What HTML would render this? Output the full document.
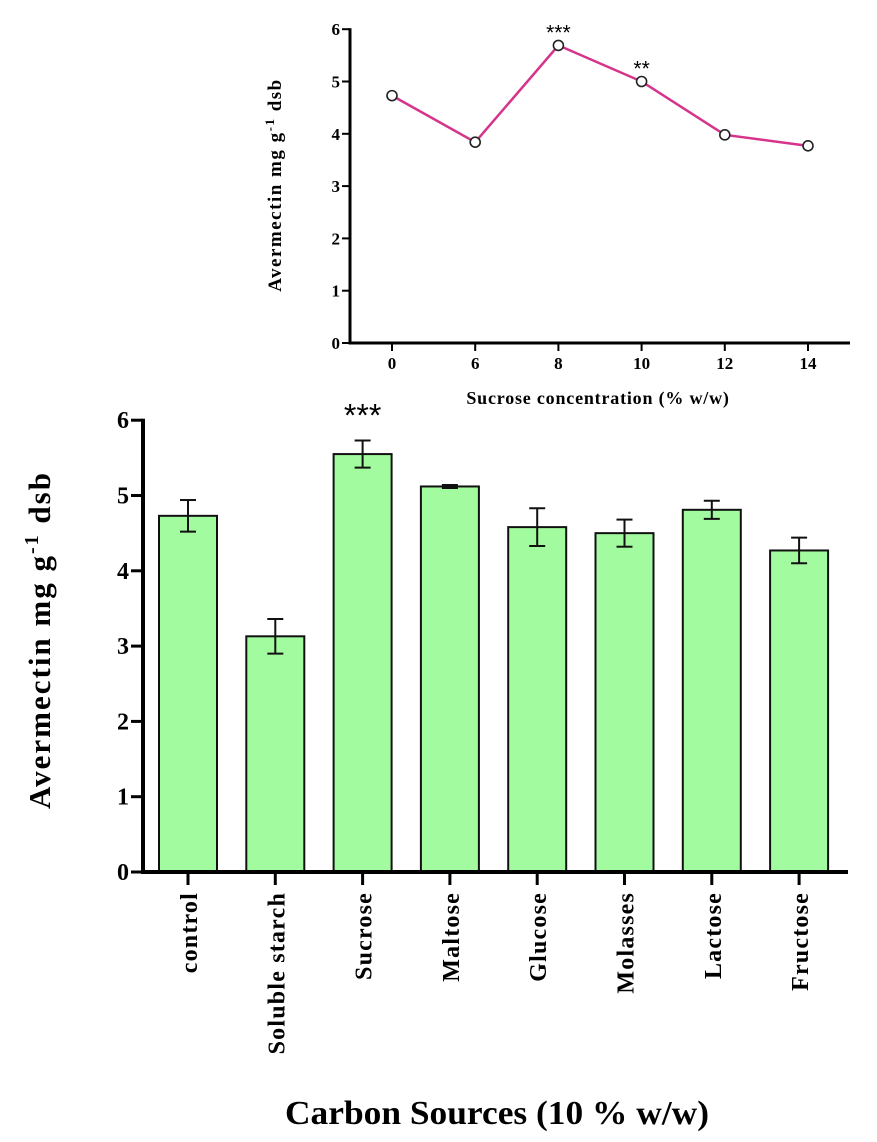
<!DOCTYPE html>
<html><head><meta charset="utf-8">
<style>
html,body{margin:0;padding:0;background:#fff;}
svg{display:block;font-family:"Liberation Serif",serif;font-weight:bold;}
</style></head>
<body>
<svg id="root" width="877" height="1142" viewBox="0 0 877 1142">
<g id="top"></g>
<g id="bot"></g>
</svg>
<script>
// ---- top line chart data ----
const lineCats = ["0","6","8","10","12","14"];
const lineVals = [4.73, 3.84, 5.69, 5.00, 3.98, 3.77];
const lineStars = ["", "", "***", "**", "", ""];
const lineYTicks = [0,1,2,3,4,5,6];
// ---- bottom bar chart data ----
const barCats = ["control","Soluble starch","Sucrose","Maltose","Glucose","Molasses","Lactose","Fructose"];
const barVals = [4.73, 3.13, 5.55, 5.12, 4.58, 4.50, 4.81, 4.27];
const barErrs = [0.21, 0.23, 0.18, 0.02, 0.25, 0.18, 0.12, 0.17];
const barStars = ["", "", "***", "", "", "", "", ""];
const barYTicks = [0,1,2,3,4,5,6];

const NS = "http://www.w3.org/2000/svg";
function mk(parent, tag, attrs, text){
  const e = document.createElementNS(NS, tag);
  for (const k in attrs) e.setAttribute(k, attrs[k]);
  if (text !== undefined) e.textContent = text;
  parent.appendChild(e);
  return e;
}

// ===== TOP =====
(function(){
  const g = document.getElementById('top');
  const ax = 350, y0 = 343, unit = 52.3, xEnd = 850;
  const x0 = 392, step = 83.2;
  const ys = v => y0 - v*unit;
  const xs = i => x0 + i*step;
  let e = mk(g,'line',{x1:ax,y1:ys(6)-1,x2:ax,y2:y0+1.5,stroke:'#000','stroke-width':3});
   
  e = mk(g,'line',{x1:ax-1.5,y1:y0,x2:xEnd,y2:y0,stroke:'#000','stroke-width':3});
   
  lineYTicks.forEach(t=>{
    mk(g,'line',{x1:ax-8,y1:ys(t),x2:ax,y2:ys(t),stroke:'#000','stroke-width':2});
    const l = mk(g,'text',{x:ax-10,y:ys(t)+6,'text-anchor':'end','font-size':17},String(t));
     
  });
  lineCats.forEach((c,i)=>{
    mk(g,'line',{x1:xs(i),y1:y0,x2:xs(i),y2:y0+8,stroke:'#000','stroke-width':2});
    const l = mk(g,'text',{x:xs(i),y:y0+26,'text-anchor':'middle','font-size':17},c);
     
  });
  const pts = lineVals.map((v,i)=>xs(i)+','+ys(v)).join(' ');
  e = mk(g,'polyline',{points:pts,fill:'none',stroke:'#d6338a','stroke-width':2.5});
   
  lineVals.forEach((v,i)=>{
    const c = mk(g,'circle',{cx:xs(i),cy:ys(v),r:5,fill:'#fff',stroke:'#222','stroke-width':1.6});
     
    if (lineStars[i]) {
      const s = mk(g,'text',{x:xs(i),y:ys(v)-6,'text-anchor':'middle','font-size':21,'font-weight':'normal','font-family':'Liberation Sans, sans-serif'},lineStars[i]);
       
    }
  });
  e = mk(g,'text',{transform:'translate(281,185) rotate(-90)','text-anchor':'middle','font-size':19,'letter-spacing':'1.5'});
   
  e.innerHTML = 'Avermectin mg g<tspan dy="-7" font-size="13">-1</tspan><tspan dy="7"> dsb</tspan>';
  e = mk(g,'text',{x:598,y:404,'text-anchor':'middle','font-size':18,'letter-spacing':'0.8'},'Sucrose concentration (% w/w)');
   
})();

// ===== BOTTOM =====
(function(){
  const g = document.getElementById('bot');
  const ax = 143, y0 = 872, unit = 75.3, xEnd = 848;
  const x0 = 188, step = 87.3, bw = 58;
  const ys = v => y0 - v*unit;
  const xs = i => x0 + i*step;
  barVals.forEach((v,i)=>{
    const r = mk(g,'rect',{x:xs(i)-bw/2,y:ys(v),width:bw,height:y0-ys(v),fill:'#a2fc9f',stroke:'#111','stroke-width':2});
     
    const er = barErrs[i];
    const eg = mk(g,'g',{stroke:'#111','stroke-width':2});
     
    mk(eg,'line',{x1:xs(i),y1:ys(v+er),x2:xs(i),y2:ys(v-er)});
    mk(eg,'line',{x1:xs(i)-8,y1:ys(v+er),x2:xs(i)+8,y2:ys(v+er)});
    mk(eg,'line',{x1:xs(i)-8,y1:ys(v-er),x2:xs(i)+8,y2:ys(v-er)});
    if (barStars[i]) {
      const s = mk(g,'text',{x:xs(i),y:ys(v+er)-14,'text-anchor':'middle','font-size':32,'font-weight':'normal','font-family':'Liberation Sans, sans-serif'},barStars[i]);
       
    }
    mk(g,'line',{x1:xs(i),y1:y0,x2:xs(i),y2:y0+13,stroke:'#000','stroke-width':3});
    const l = mk(g,'text',{transform:`translate(${xs(i)+9},${y0+20}) rotate(-90)`,'text-anchor':'end','font-size':24,'letter-spacing':'1.2'},barCats[i]);
     
  });
  let e = mk(g,'line',{x1:ax,y1:ys(6)-1.5,x2:ax,y2:y0+2,stroke:'#000','stroke-width':4});
   
  e = mk(g,'line',{x1:ax-2,y1:y0,x2:xEnd,y2:y0,stroke:'#000','stroke-width':4});
   
  barYTicks.forEach(t=>{
    mk(g,'line',{x1:ax-12,y1:ys(t),x2:ax,y2:ys(t),stroke:'#000','stroke-width':3});
    const l = mk(g,'text',{x:ax-14,y:ys(t)+8,'text-anchor':'end','font-size':24},String(t));
     
  });
  e = mk(g,'text',{transform:'translate(50,640) rotate(-90)','text-anchor':'middle','font-size':31,'letter-spacing':'2'});
   
  e.innerHTML = 'Avermectin mg g<tspan dy="-12" font-size="20">-1</tspan><tspan dy="12"> dsb</tspan>';
  e = mk(g,'text',{x:497,y:1124,'text-anchor':'middle','font-size':34,textLength:424,lengthAdjust:'spacingAndGlyphs'},'Carbon Sources (10 % w/w)');
   
})();
</script>
</body></html>
